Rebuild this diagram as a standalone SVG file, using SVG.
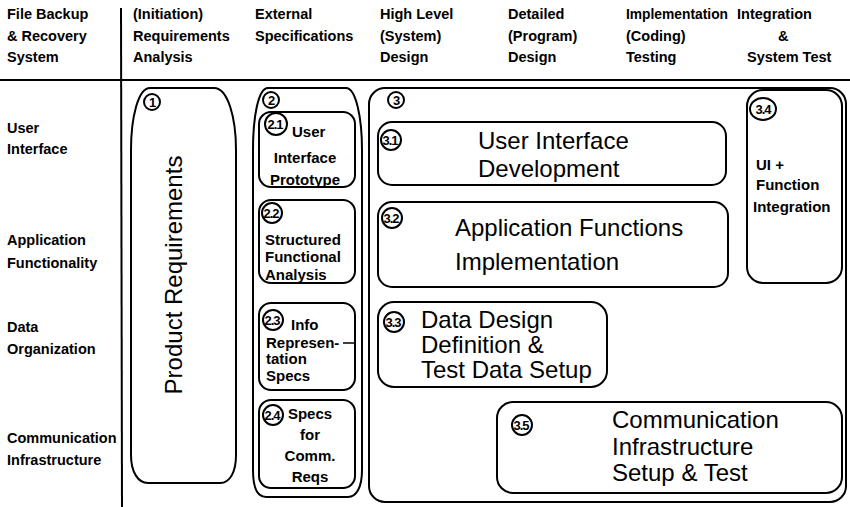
<svg xmlns="http://www.w3.org/2000/svg" width="850" height="507" viewBox="0 0 850 507">
<style>
.hd{font-family:"Liberation Sans",Arial,sans-serif;font-weight:bold;font-size:14.5px;fill:#000}
.sb{font-family:"Liberation Sans",Arial,sans-serif;font-weight:bold;font-size:15px;fill:#000}
.big{font-family:"Liberation Sans",Arial,sans-serif;font-size:24px;fill:#000}
.num{font-family:"Liberation Sans",Arial,sans-serif;font-weight:bold;font-size:13px;fill:#000;text-anchor:middle;letter-spacing:-1px}
.box{fill:none;stroke:#000;stroke-width:2}
.circ{fill:none;stroke:#000;stroke-width:2}
.rule{stroke:#000;stroke-width:2;fill:none}
</style>
<rect width="850" height="507" fill="#fff"/>
<g id="grid">
<line class="rule" x1="0" y1="80" x2="850" y2="80"/>
<line class="rule" x1="121" y1="8" x2="122" y2="507"/>
</g>
<g id="headers" class="hd">
<text x="7" y="19">File Backup</text>
<text x="7" y="41">&amp; Recovery</text>
<text x="7" y="62">System</text>
<text x="133" y="19">(Initiation)</text>
<text x="133" y="41">Requirements</text>
<text x="133" y="62">Analysis</text>
<text x="255" y="19">External</text>
<text x="255" y="41">Specifications</text>
<text x="380" y="19">High Level</text>
<text x="380" y="41">(System)</text>
<text x="380" y="62">Design</text>
<text x="508" y="19">Detailed</text>
<text x="508" y="41">(Program)</text>
<text x="508" y="62">Design</text>
<text x="626" y="19" textLength="102" lengthAdjust="spacingAndGlyphs">Implementation</text>
<text x="626" y="41">(Coding)</text>
<text x="626" y="62">Testing</text>
<text x="737" y="19">Integration</text>
<text x="778" y="41">&amp;</text>
<text x="747" y="62">System Test</text>
</g>
<g id="rows" class="hd">
<text x="7" y="133">User</text>
<text x="7" y="154">Interface</text>
<text x="7" y="245">Application</text>
<text x="7" y="268">Functionality</text>
<text x="7" y="332">Data</text>
<text x="7" y="354">Organization</text>
<text x="7" y="443">Communication</text>
<text x="7" y="465">Infrastructure</text>
</g>
<g id="n1">
<path class="box" d="M150,88 L214,88 C228,88 236,118 236,150 L236,455 C236,472 230,483 220,483 L148,483 C138,483 131,472 131,455 L131,150 C131,118 138,88 150,88 Z"/>
<circle class="circ" cx="152" cy="102" r="8"/>
<text class="num" x="152" y="107">1</text>
<text class="big" transform="translate(182,275) rotate(-90)" text-anchor="middle" font-size="22">Product Requirements</text>
</g>
<g id="n2">
<path class="box" d="M268,88 L346,88 C356,88 362,118 362,150 L362,470 C362,488 356,497 348,497 L266,497 C258,497 253,488 253,470 L253,150 C253,118 258,88 268,88 Z"/>
<circle class="circ" cx="271" cy="100" r="8"/>
<text class="num" x="271" y="105">2</text>
</g>
<g id="n2_1">
<rect class="box" x="259" y="112" width="96" height="75" rx="12"/>
<circle class="circ" cx="276" cy="124" r="11"/>
<text class="num" x="275" y="129">2.1</text>
<text class="sb" x="292" y="137">User</text>
<text class="sb" x="305" y="163" text-anchor="middle">Interface</text>
<text class="sb" x="305" y="185" text-anchor="middle">Prototype</text>
</g>
<g id="n2_2">
<rect class="box" x="259" y="200" width="96" height="83" rx="12"/>
<circle class="circ" cx="272" cy="213" r="10"/>
<text class="num" x="271" y="218">2.2</text>
<text class="sb" x="265" y="245">Structured</text>
<text class="sb" x="265" y="262">Functional</text>
<text class="sb" x="265" y="280">Analysis</text>
</g>
<g id="n2_3">
<rect class="box" x="259" y="303" width="96" height="87" rx="12"/>
<circle class="circ" cx="273" cy="320" r="10"/>
<text class="num" x="272" y="325">2.3</text>
<text class="sb" x="291" y="330">Info</text>
<text class="sb" x="266" y="348">Represen-</text>
<line x1="343" y1="343" x2="355" y2="343" stroke="#000" stroke-width="1.5"/>
<text class="sb" x="266" y="364">tation</text>
<text class="sb" x="266" y="381">Specs</text>
</g>
<g id="n2_4">
<rect class="box" x="259" y="400" width="96" height="88" rx="12"/>
<circle class="circ" cx="273" cy="415" r="10"/>
<text class="num" x="272" y="420">2.4</text>
<text class="sb" x="310" y="419" text-anchor="middle">Specs</text>
<text class="sb" x="310" y="440" text-anchor="middle">for</text>
<text class="sb" x="310" y="461" text-anchor="middle">Comm.</text>
<text class="sb" x="310" y="482" text-anchor="middle">Reqs</text>
</g>
<g id="n3">
<rect class="box" x="369" y="88" width="477" height="414" rx="16"/>
<circle class="circ" cx="396" cy="100" r="8"/>
<text class="num" x="396" y="105">3</text>
</g>
<g id="n3_1">
<rect class="box" x="378" y="122" width="348" height="63" rx="14"/>
<circle class="circ" cx="391" cy="140" r="10"/>
<text class="num" x="390" y="145">3.1</text>
<text class="big" x="478" y="149">User Interface</text>
<text class="big" x="478" y="177">Development</text>
</g>
<g id="n3_2">
<rect class="box" x="378" y="202" width="350" height="85" rx="14"/>
<circle class="circ" cx="392" cy="218" r="10"/>
<text class="num" x="391" y="223">3.2</text>
<text class="big" x="455" y="236">Application Functions</text>
<text class="big" x="455" y="270">Implementation</text>
</g>
<g id="n3_3">
<rect class="box" x="378" y="302" width="229" height="85" rx="16"/>
<circle class="circ" cx="394" cy="322" r="10"/>
<text class="num" x="393" y="327">3.3</text>
<text class="big" x="421" y="328" font-size="21">Data Design</text>
<text class="big" x="421" y="353" font-size="21">Definition &amp;</text>
<text class="big" x="421" y="378" font-size="21">Test Data Setup</text>
</g>
<g id="n3_4">
<rect class="box" x="747" y="90" width="95" height="193" rx="16"/>
<ellipse class="circ" cx="763" cy="109" rx="13" ry="11"/>
<text class="num" x="763" y="114">3.4</text>
<text class="sb" x="756" y="170">UI +</text>
<text class="sb" x="756" y="190">Function</text>
<text class="sb" x="753" y="212">Integration</text>
</g>
<g id="n3_5">
<rect class="box" x="497" y="402" width="345" height="91" rx="16"/>
<circle class="circ" cx="522" cy="425" r="10"/>
<text class="num" x="521" y="430">3.5</text>
<text class="big" x="612" y="428" font-size="22">Communication</text>
<text class="big" x="612" y="455" font-size="22">Infrastructure</text>
<text class="big" x="612" y="481" font-size="22">Setup &amp; Test</text>
</g>
<g id="connectors"></g>
</svg>
